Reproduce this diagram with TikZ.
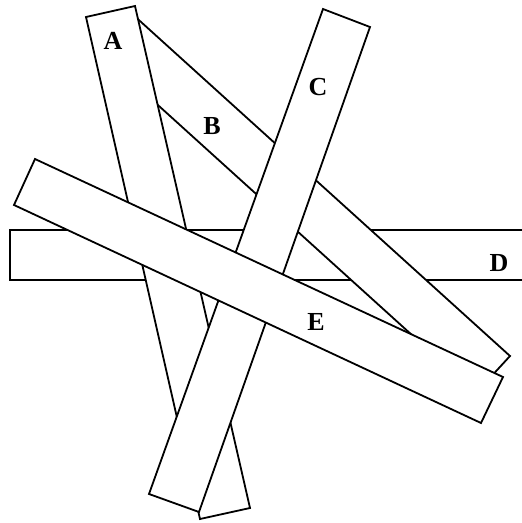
\documentclass[tikz,border=0pt]{standalone}
\usepackage{fontspec}
\setmainfont{Liberation Serif}
\usepackage{tikz}

\begin{document}
\begin{tikzpicture}[
    x=1pt, y=-1pt,
    strip/.style={draw, fill=white, line width=1.8pt, line join=miter},
    tag/.style={inner sep=0pt, font=\bfseries\fontsize{26}{26}\selectfont}
]
    \useasboundingbox (0,0) rectangle (522,523);
    \clip (0,0) rectangle (522,523);

    % Strip D (bottom layer)
    \draw[strip] (10,230) -- (540,230) -- (540,280) -- (10,280) -- cycle;

    % Strip B
    \draw[strip] (130,12) -- (510,356) -- (476,393) -- (96,49) -- cycle;

    % Strip A
    \draw[strip] (86,17) -- (135,6) -- (250,508) -- (200,519) -- cycle;

    % Strip C
    \draw[strip] (323,9) -- (370,27) -- (199,512) -- (149,494) -- cycle;

    % Strip E (top layer)
    \draw[strip] (35,159) -- (503,377) -- (481,423) -- (14,205) -- cycle;

    % Labels
    \node[tag] (labA) at (113,41) {A};
    \node[tag] (labB) at (212,126) {B};
    \node[tag] (labC) at (318,87) {C};
    \node[tag] (labD) at (499,263) {D};
    \node[tag] (labE) at (316,322) {E};
\end{tikzpicture}
\end{document}
